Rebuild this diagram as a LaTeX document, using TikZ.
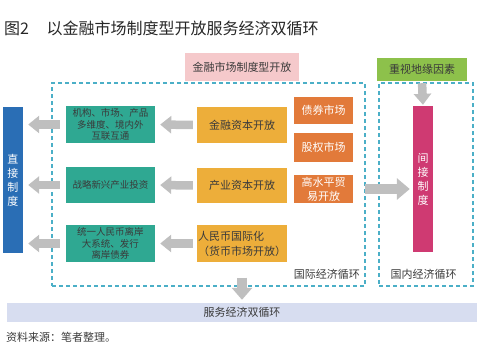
\documentclass[tikz,border=0pt]{standalone}
\usepackage{fontspec}
\newfontfamily\cjk{Noto Sans CJK SC}
\usetikzlibrary{arrows.meta}

\definecolor{dirblue}{HTML}{2A6EB5}
\definecolor{chanteal}{HTML}{2FA892}
\definecolor{openyellow}{HTML}{EDAE3A}
\definecolor{mktorange}{HTML}{E27A3A}
\definecolor{indmagenta}{HTML}{CF3A72}
\definecolor{geogreen}{HTML}{8DC14B}
\definecolor{headpink}{HTML}{F5C9CB}
\definecolor{bandblue}{HTML}{D7DDF0}
\definecolor{loopcyan}{HTML}{4BAFC7}
\definecolor{txtgray}{HTML}{3A3A3A}

\begin{document}
\begin{tikzpicture}[x=1pt, y=-1pt,
    box/.style={inner sep=0pt, align=center, text=txtgray,
                font={\cjk\fontsize{11}{15}\selectfont}},
    chanbox/.style={box, fill=chanteal, minimum width=89pt,
                font={\cjk\fontsize{9.5}{11.5}\selectfont}},
    openbox/.style={box, fill=openyellow, minimum width=90pt},
    mktbox/.style={box, fill=mktorange, text=white, minimum width=59pt,
                font={\cjk\fontsize{11}{14}\selectfont}},
    tallbox/.style={box, text=white, minimum width=20pt, minimum height=146pt,
                font={\cjk\fontsize{11}{14}\selectfont}},
    loopbox/.style={draw=loopcyan, line width=1.1pt, dash pattern=on 4pt off 3pt,
                inner sep=0pt},
    garrow/.style={gray!50, line width=8.5pt, -{Triangle[length=11pt, width=17pt]}},
  ]
  \useasboundingbox (0,0) rectangle (499,357);

  % Title
  \node[anchor=west, inner sep=0pt, text=black!85,
        font={\cjk\fontsize{16}{18}\selectfont}] (title) at (4,28)
        {图2\hspace{1.1em}以金融市场制度型开放服务经济双循环};

  % Headers
  \node[box, fill=headpink, minimum width=114pt, minimum height=28pt]
        (head) at (242,67) {金融市场制度型开放};
  \node[box, fill=geogreen, minimum width=90pt, minimum height=23pt]
        (geo) at (422,69.5) {重视地缘因素};

  % Dashed loops
  \node[loopbox, minimum width=313pt, minimum height=203pt] (intl) at (208.5,184.5) {};
  \node[loopbox, minimum width=94pt, minimum height=203pt] (dom) at (426,184.5) {};
  \node[box, anchor=east] (intllab) at (360,274) {国际经济循环};
  \node[box] (domlab) at (423.5,274) {国内经济循环};

  % Direct and indirect
  \node[tallbox, fill=dirblue] (direct) at (13,180) {直\\接\\制\\度};
  \node[tallbox, fill=indmagenta] (indirect) at (423,179) {间\\接\\制\\度};

  % Channels
  \node[chanbox, minimum height=37pt] (inst) at (110.5,124.5)
        {机构、市场、产品\\多维度、境内外\\互联互通};
  \node[chanbox, minimum height=36pt] (invest) at (110.5,185) {战略新兴产业投资};
  \node[chanbox, minimum height=37pt] (offshore) at (110.5,243.5)
        {统一人民币离岸\\大系统、发行\\离岸债券};

  % Opening
  \node[openbox, minimum height=36pt] (fin) at (242,125) {金融资本开放};
  \node[openbox, minimum height=35pt] (ind) at (242,185.5) {产业资本开放};
  \node[openbox, align=left, minimum height=37pt] (rmb) at (242,243.5)
        {人民币国际化\\（货币市场开放）};

  % Markets
  \node[mktbox, minimum height=27pt] (bond) at (323.5,110.5) {债券市场};
  \node[mktbox, minimum height=29pt] (equity) at (323.5,147.5) {股权市场};
  \node[mktbox, minimum height=28pt] (trade) at (323.5,189) {高水平贸\\易开放};

  % Band and source
  \node[box, fill=bandblue, minimum width=470pt, minimum height=19pt]
        (band) at (242,312.5) {服务经济双循环};
  \node[box, anchor=west] (source) at (6,337) {资料来源：笔者整理。};

  % Arrows
  \foreach \src/\dst in {fin/inst, ind/invest, rmb/offshore} {
    \draw[garrow, shorten <=4pt, shorten >=5pt] (\src.west) -- (\dst.east);
    \draw[garrow, shorten <=6pt, shorten >=5pt] (\dst.west) -- (\dst.west -| direct.east);
  }
  \draw[garrow, line width=10pt, -{Triangle[length=13pt, width=21pt]},
        shorten <=12pt, shorten >=3pt] (trade.east) -- (trade.east -| indirect.west);
  \draw[garrow, shorten <=2pt, shorten >=1pt] (geo.south) -- (indirect.north);
  \draw[garrow, line width=10pt, -{Triangle[length=12pt, width=20pt]},
        shorten <=-9pt, shorten >=3pt] (band.north |- intl.south) -- (band.north);
\end{tikzpicture}
\end{document}
